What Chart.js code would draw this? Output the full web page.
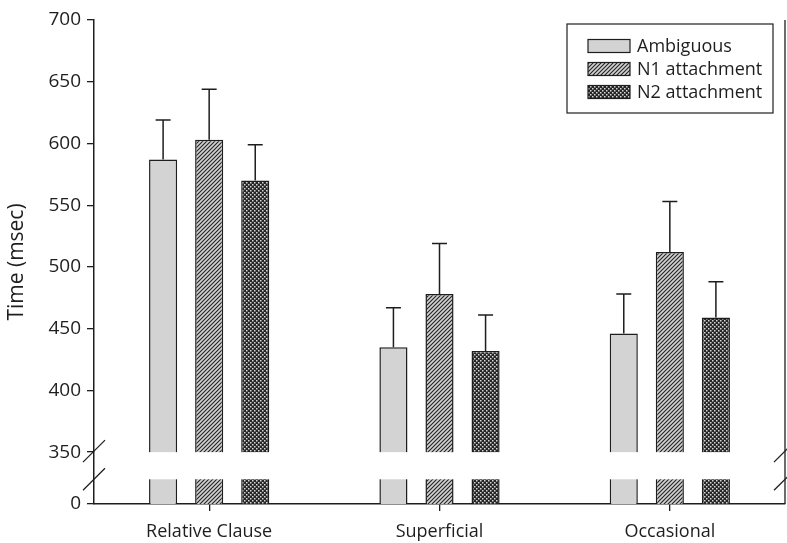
<!DOCTYPE html>
<html>
<head>
<meta charset="utf-8">
<script src="https://cdn.jsdelivr.net/npm/chart.js@4.4.1/dist/chart.umd.min.js"></script>
<style>
  html, body { margin: 0; padding: 0; background: #fff; }
  #wrap { width: 787px; height: 543px; }
</style>
</head>
<body>
<div id="wrap"><canvas id="timeChart" width="787" height="543"></canvas></div>
<script>
// data
const categories = ["Relative Clause", "Superficial", "Occasional"];
const seriesNames = ["Ambiguous", "N1 attachment", "N2 attachment"];
const ambiguousMean = [587, 435, 446];
const n1Mean = [603, 478, 512];
const n2Mean = [570, 432, 459];
const ambiguousErr = [619, 467, 478];
const n1Err = [644, 519, 553];
const n2Err = [599, 461, 488];
const yTicks = [0, 350, 400, 450, 500, 550, 600, 650, 700];

// broken axis: zero is drawn at this scale value, the band below 350 is cut out
const zeroAt = 308;
const breakLow = 328, breakHigh = 350;

const ink = "#1e1e1e";
const fontFamily = "'Open Sans', sans-serif";

function makePattern(kind) {
    const c = document.createElement('canvas');
    c.width = 4; c.height = 4;
    const g = c.getContext('2d');
    if (kind === 'hatch') {
        g.fillStyle = "#d2d2d2";
        g.fillRect(0, 0, 4, 4);
        g.strokeStyle = "#222";
        g.lineWidth = 1.1;
        g.beginPath();
        g.moveTo(-1, 5); g.lineTo(5, -1);
        g.moveTo(-1, 1); g.lineTo(1, -1);
        g.moveTo(3, 5); g.lineTo(5, 3);
        g.stroke();
    } else {
        g.fillStyle = "#262626";
        g.fillRect(0, 0, 4, 4);
        g.fillStyle = "#d8d8d8";
        g.fillRect(0, 0, 1.5, 1.5);
        g.fillRect(2, 2, 1.5, 1.5);
    }
    return g.createPattern(c, 'repeat');
}

const fills = ["#d3d3d3", makePattern('hatch'), makePattern('cross')];
const means = [ambiguousMean, n1Mean, n2Mean];
const errs = [ambiguousErr, n1Err, n2Err];

const mapVal = v => (v === 0 ? zeroAt : v);

const breakPlugin = {
    id: 'breakAndErrors',
    afterDatasetsDraw(chart) {
        const ctx = chart.ctx;
        const y = chart.scales.y;
        const area = chart.chartArea;

        // error bars (upper only)
        ctx.save();
        ctx.strokeStyle = ink;
        ctx.lineWidth = 1.5;
        chart.data.datasets.forEach((ds, di) => {
            const meta = chart.getDatasetMeta(di);
            meta.data.forEach((bar, i) => {
                const top = y.getPixelForValue(means[di][i]);
                const cap = y.getPixelForValue(errs[di][i]);
                ctx.beginPath();
                ctx.moveTo(bar.x, top);
                ctx.lineTo(bar.x, cap);
                ctx.moveTo(bar.x - 7.5, cap);
                ctx.lineTo(bar.x + 7.5, cap);
                ctx.stroke();
            });
        });
        ctx.restore();

        // cut band
        const yHi = y.getPixelForValue(breakHigh);
        const yLo = y.getPixelForValue(breakLow);
        ctx.save();
        ctx.fillStyle = "#fff";
        ctx.fillRect(area.left + 1, yHi, area.right - area.left - 2, yLo - yHi);
        ctx.restore();
    },
    afterDraw(chart) {
        const ctx = chart.ctx;
        const y = chart.scales.y;
        const area = chart.chartArea;
        const yHi = y.getPixelForValue(breakHigh);
        const yLo = y.getPixelForValue(breakLow);
        ctx.save();
        ctx.strokeStyle = ink;
        ctx.lineWidth = 1.3;
        // right frame line
        ctx.beginPath();
        ctx.moveTo(area.right, area.top);
        ctx.lineTo(area.right, area.bottom);
        ctx.stroke();
        // break marks on both axes
        [area.left, area.right].forEach(x => {
            [yHi - 1, yLo].forEach(cy => {
                ctx.beginPath();
                ctx.moveTo(x - 11, cy + 11);
                ctx.lineTo(x + 11, cy - 11);
                ctx.stroke();
            });
        });

        // legend box
        const lx = 567, ly = 24, lw = 206, lh = 89;
        ctx.lineWidth = 1.2;
        ctx.strokeRect(lx, ly, lw, lh);
        ctx.font = "18px " + fontFamily;
        ctx.textBaseline = 'middle';
        chart.data.datasets.forEach((ds, i) => {
            const cy = ly + 22 + i * 23;
            ctx.fillStyle = ds.backgroundColor;
            ctx.fillRect(588, cy - 6.5, 42, 13);
            ctx.strokeRect(588, cy - 6.5, 42, 13);
            ctx.fillStyle = ink;
            ctx.fillText(ds.label, 637, cy + 1);
        });
        ctx.restore();
    }
};

const datasets = seriesNames.map((name, di) => ({
    label: name,
    data: means[di].map(v => [zeroAt, v]),
    backgroundColor: fills[di],
    borderColor: ink,
    borderWidth: 1.5,
    borderSkipped: 'start',
    categoryPercentage: 0.6,
    barPercentage: 0.61
}));

new Chart(document.getElementById('timeChart').getContext('2d'), {
    type: 'bar',
    data: { labels: categories, datasets: datasets },
    plugins: [breakPlugin],
    options: {
        responsive: false,
        animation: false,
        devicePixelRatio: 1,
        layout: { padding: { left: 0, top: 20, right: 2, bottom: 0 } },
        plugins: { legend: { display: false }, tooltip: { enabled: false } },
        scales: {
            x: {
                grid: { display: true, drawOnChartArea: false, offset: false, tickLength: 7, color: ink, lineWidth: 1.3 },
                border: { color: ink, width: 1.5 },
                ticks: { color: ink, font: { family: fontFamily, size: 18 }, padding: 10 },
                afterFit(scale) { scale.height = 39; }
            },
            y: {
                min: zeroAt,
                max: 700,
                grid: { display: true, drawOnChartArea: false, tickLength: 7, color: ink, lineWidth: 1.3 },
                border: { color: ink, width: 1.5 },
                afterBuildTicks(scale) { scale.ticks = yTicks.map(v => ({ value: mapVal(v) })); },
                ticks: {
                    color: ink,
                    font: { family: fontFamily, size: 19 },
                    padding: 6,
                    callback: v => (v === zeroAt ? '0' : v)
                },
                title: {
                    display: true,
                    text: 'Time (msec)',
                    color: ink,
                    font: { family: fontFamily, size: 21 },
                    padding: { top: 4, bottom: 0 }
                },
                afterFit(scale) { scale.width = 94; }
            }
        }
    }
});
</script>
</body>
</html>
